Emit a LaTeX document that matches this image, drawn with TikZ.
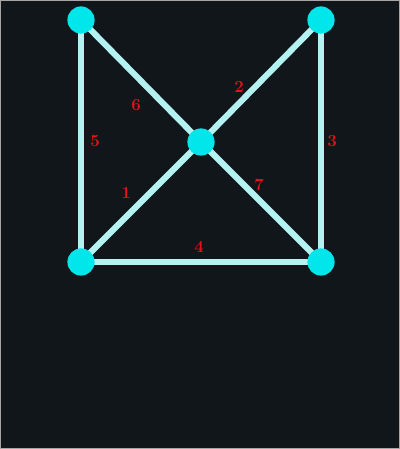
\documentclass[tikz,border=0pt]{standalone}
\usepackage{tikz}
\usetikzlibrary{backgrounds}
\definecolor{wood}{HTML}{11161B}
\definecolor{dot}{HTML}{00E6EA}
\definecolor{edge}{HTML}{B4F2F2}
\definecolor{numred}{HTML}{E8101A}
\tikzset{
  dot/.style={circle,fill=dot,minimum size=0.68cm,inner sep=0pt},
  edge/.style={draw=edge,line width=4.3pt},
  num/.style={text=numred,font=\fontsize{12}{14}\selectfont\bfseries,inner sep=0pt}
}

\begin{document}
\begin{tikzpicture}
            \node[dot] (tl) at (2.025,10.725) {};
            \node[dot] (tr) at (8.025,10.725) {};
            \node[dot] (c) at (5.025,7.675) {};
            \node[dot] (bl) at (2.025,4.675) {};
            \node[dot] (br) at (8.025,4.675) {};
            \begin{scope}[on background layer]
            \fill[gray!70] (0,0) rectangle (10,11.225);
            \fill[wood] (0.025,0.025) rectangle (9.975,11.2);
            \draw[edge] (bl.center) -- (c.center);
            \draw[edge] (c.center) -- (tr.center);
            \draw[edge] (tr.center) -- (br.center);
            \draw[edge] (bl.center) -- (br.center);
            \draw[edge] (tl.center) -- (bl.center);
            \draw[edge] (tl.center) -- (c.center);
            \draw[edge] (c.center) -- (br.center);
            \end{scope}
            \node[num] (n1) at (3.15,6.4) {1};
            \node[num] (n2) at (5.975,9.05) {2};
            \node[num] (n3) at (8.3,7.7) {3};
            \node[num] (n4) at (4.975,5.05) {4};
            \node[num] (n5) at (2.375,7.7) {5};
            \node[num] (n6) at (3.4,8.6) {6};
            \node[num] (n7) at (6.475,6.6) {7};
            \useasboundingbox (0,0) rectangle (10,11.225);
        \end{tikzpicture}
\end{document}
